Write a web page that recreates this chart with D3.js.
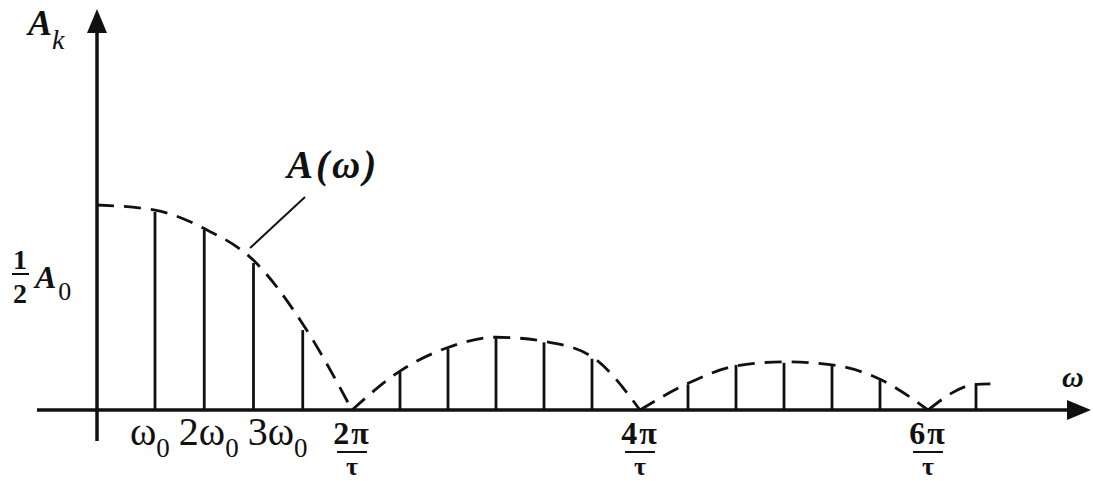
<!DOCTYPE html>
<html>
<head>
<meta charset="utf-8">
<script src="https://cdn.jsdelivr.net/npm/d3@7"></script>
<style>
  html, body { margin: 0; padding: 0; background: #fff; }
  svg { display: block; }
  text { font-family: "Liberation Serif", "Times New Roman", serif; fill: #111; }
</style>
</head>
<body>
<svg id="chart" width="1093" height="481"></svg>
<script>
// Harmonic index (ω / ω0) of each spectral line and its amplitude (A(0) = 1)
const harmonics  = [1, 2, 3, 4, 6, 7, 8, 9, 10, 12, 13, 14, 15, 16, 18];
const amplitudes = [0.966, 0.878, 0.717, 0.39, 0.185, 0.30, 0.35, 0.33, 0.25,
                    0.125, 0.22, 0.23, 0.22, 0.145, 0.125];

// Envelope A(ω), one lobe per array: [harmonic index, amplitude]
const lobe1 = [[0, 1.0], [1, 0.975], [2, 0.885], [3, 0.73], [4, 0.42], [5, 0]];
const lobe2 = [[5, 0], [6, 0.19], [7, 0.305], [8, 0.355], [9, 0.335], [10, 0.26], [11, 0]];
const lobe3 = [[11, 0], [12, 0.13], [13, 0.215], [14, 0.235], [15, 0.22], [16, 0.15], [17, 0]];
const lobe4 = [[17, 0], [18, 0.125], [18.3, 0.127]];

// Axis tick labels
const harmonicTicks = [{k: 1, pre: "", sub: "0"}, {k: 2, pre: "2", sub: "0"}, {k: 3, pre: "3", sub: "0"}];
const zeroTicks = [{k: 5, num: "2π", den: "τ"}, {k: 11, num: "4π", den: "τ"}, {k: 17, num: "6π", den: "τ"}];

const svg = d3.select("#chart");
const ink = "#111";

const x = d3.scaleLinear().domain([0, 1, 5, 17]).range([97, 155, 352, 928]);
const y = d3.scaleLinear().domain([0, 1]).range([410, 205]);

const x0 = x(0), y0 = y(0);

// Axes with arrow heads
svg.append("line").attr("x1", 37).attr("x2", 1070).attr("y1", y0).attr("y2", y0)
  .attr("stroke", ink).attr("stroke-width", 3.5);
svg.append("path")
  .attr("d", `M1091,${y0} L1067,${y0 - 10} L1067,${y0 + 10} Z`).attr("fill", ink);
svg.append("line").attr("x1", x0).attr("x2", x0).attr("y1", 441).attr("y2", 28)
  .attr("stroke", ink).attr("stroke-width", 3.5);
svg.append("path")
  .attr("d", `M${x0},9 L${x0 - 10},33 L${x0 + 10},33 Z`).attr("fill", ink);

// Spectral lines
svg.append("g").selectAll("line")
  .data(harmonics.map((k, i) => ({k, a: amplitudes[i]})))
  .join("line")
  .attr("x1", d => x(d.k)).attr("x2", d => x(d.k))
  .attr("y1", y0).attr("y2", d => y(d.a))
  .attr("stroke", ink).attr("stroke-width", 2.8);

// Dashed envelope
const env = d3.line().x(d => x(d[0])).y(d => y(d[1])).curve(d3.curveMonotoneX);
svg.append("g").selectAll("path")
  .data([lobe1, lobe2, lobe3, lobe4])
  .join("path")
  .attr("d", env)
  .attr("fill", "none").attr("stroke", ink).attr("stroke-width", 2.8)
  .attr("stroke-dasharray", "17,10");

// Envelope label with leader line
svg.append("line")
  .attr("x1", 305).attr("y1", 197).attr("x2", x(2.93)).attr("y2", y(0.79))
  .attr("stroke", ink).attr("stroke-width", 2);
svg.append("text").attr("x", 287).attr("y", 178)
  .attr("font-size", 39).attr("font-weight", "bold").attr("font-style", "italic")
  .attr("letter-spacing", 3)
  .text("A(ω)");

// Y-axis title A_k
const yt = svg.append("text").attr("x", 28).attr("y", 35);
yt.append("tspan").attr("font-size", 36).attr("font-weight", "bold").attr("font-style", "italic").text("A");
yt.append("tspan").attr("font-size", 28).attr("font-style", "italic").attr("dy", 14).text("k");

// X-axis title ω
svg.append("text").attr("x", 1062).attr("y", 387)
  .attr("font-size", 30).attr("font-style", "italic").attr("font-weight", "bold").text("ω");

// ½A0 marker on the y axis
svg.append("text").attr("x", 20).attr("y", 269).attr("text-anchor", "middle")
  .attr("font-size", 28).attr("font-weight", "bold").text("1");
svg.append("line").attr("x1", 12).attr("x2", 29).attr("y1", 274).attr("y2", 274)
  .attr("stroke", ink).attr("stroke-width", 2);
svg.append("text").attr("x", 20).attr("y", 303).attr("text-anchor", "middle")
  .attr("font-size", 28).attr("font-weight", "bold").text("2");
const ha = svg.append("text").attr("x", 35).attr("y", 288);
ha.append("tspan").attr("font-size", 32).attr("font-weight", "bold").attr("font-style", "italic").text("A");
ha.append("tspan").attr("font-size", 26).attr("dx", 2).attr("dy", 12).text("0");

// Harmonic tick labels, typeset as one run
let cursor = x(1) - 25;
harmonicTicks.forEach(t => {
  const tx = svg.append("text").attr("x", cursor).attr("y", 445);
  if (t.pre) tx.append("tspan").attr("font-size", 40).text(t.pre);
  tx.append("tspan").attr("font-size", 40).text("ω");
  tx.append("tspan").attr("font-size", 27).attr("dy", 12).text(t.sub);
  cursor += tx.node().getComputedTextLength() + 9;
});

// Zero-crossing tick labels (fractions)
zeroTicks.forEach(t => {
  const cx = x(t.k);
  svg.append("text").attr("x", cx).attr("y", 444).attr("text-anchor", "middle")
    .attr("font-size", 32).attr("font-weight", "bold").attr("letter-spacing", 2).text(t.num);
  svg.append("line").attr("x1", cx - 15).attr("x2", cx + 15).attr("y1", 452).attr("y2", 452)
    .attr("stroke", ink).attr("stroke-width", 2);
  svg.append("text").attr("x", cx).attr("y", 475).attr("text-anchor", "middle")
    .attr("font-size", 26).attr("font-weight", "bold").text(t.den);
});
</script>
</body>
</html>
